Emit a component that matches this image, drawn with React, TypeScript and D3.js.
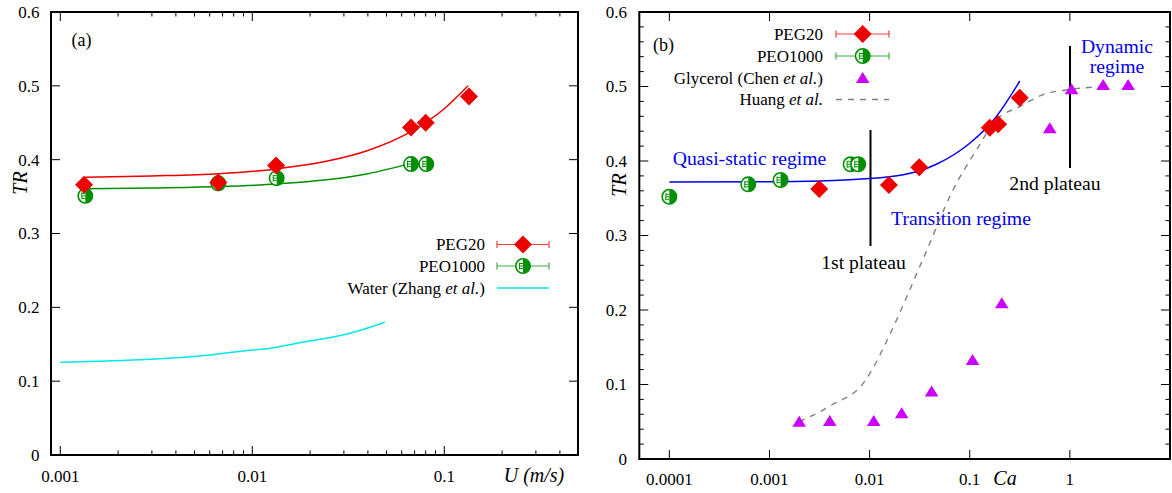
import React from "react";
import * as d3 from "d3";

// ---------- Panel (a) data ----------
const pegU = [0.00133, 0.00665, 0.0133, 0.0671, 0.08, 0.1345];
const pegTRa = [0.366, 0.369, 0.392, 0.4435, 0.45, 0.4855];
const peoU = [0.00135, 0.00665, 0.0134, 0.0671, 0.0806];
const peoTRa = [0.351, 0.368, 0.375, 0.394, 0.394];
const pegFitU = [0.00135, 0.003, 0.0067, 0.0133, 0.025, 0.04, 0.067, 0.1, 0.133];
const pegFitTR = [0.3763, 0.378, 0.381, 0.3875, 0.3985, 0.4125, 0.438, 0.469, 0.5];
const peoFitU = [0.00135, 0.003, 0.0067, 0.0133, 0.025, 0.04, 0.067];
const peoFitTR = [0.3605, 0.3615, 0.3635, 0.367, 0.373, 0.381, 0.395];
const waterU = [0.001, 0.0029, 0.0053, 0.01, 0.012, 0.0177, 0.0323, 0.049];
const waterTR = [0.1256, 0.1297, 0.134, 0.1423, 0.144, 0.152, 0.1648, 0.1798];
const xTicksA = [0.001, 0.01, 0.1];
const xTickLabelsA = ["0.001", "0.01", "0.1"];
const yTicks = [0, 0.1, 0.2, 0.3, 0.4, 0.5, 0.6];
const yTickLabels = ["0", "0.1", "0.2", "0.3", "0.4", "0.5", "0.6"];

// ---------- Panel (b) data ----------
const peoCa = [0.0001, 0.000614, 0.00129, 0.00646, 0.0077];
const peoTRb = [0.352, 0.3687, 0.3745, 0.3956, 0.3956];
const pegCa = [0.00314, 0.0156, 0.0313, 0.1585, 0.192, 0.316];
const pegTRb = [0.3624, 0.3678, 0.3915, 0.4447, 0.4492, 0.485];
const fitCa = [0.0001, 0.001, 0.01, 0.0217, 0.031, 0.047, 0.1, 0.184, 0.316];
const fitTR = [0.3718, 0.372, 0.3765, 0.3815, 0.3865, 0.396, 0.4238, 0.4595, 0.5074];
const huangCa = [0.00198, 0.004, 0.009, 0.0108, 0.0154, 0.0356, 0.068, 0.117, 0.183, 0.316, 0.54, 1, 2.2];
const huangTR = [0.05, 0.071, 0.105, 0.122, 0.163, 0.274, 0.361, 0.415, 0.455, 0.473, 0.489, 0.496, 0.5];
const glyCa = [0.00198, 0.004, 0.011, 0.0209, 0.0416, 0.1067, 0.209, 0.63, 1.04, 2.15, 3.82];
const glyTR = [0.05, 0.051, 0.051, 0.0613, 0.0904, 0.1329, 0.209, 0.4438, 0.4962, 0.502, 0.502];
const xTicksB = [0.0001, 0.001, 0.01, 0.1, 1, 10];
const xTickLabelsB = ["0.0001", "0.001", "0.01", "0.1", "1", ""];

const RED = "#ee0000";
const GREEN = "#008f00";
const BLUE = "#0000ee";
const MAG = "#cc00ff";
const CYAN = "#00e8e8";
const GREY = "#808080";
const FONT = "'Liberation Serif', 'Times New Roman', serif";
const FS = 17;
const FS_ANN = 19.7;
const FS_AX = 20;

const zip = (a: number[], b: number[]) => a.map((v, i) => [v, b[i]] as [number, number]);

function Diamond({ x, y, s = 9 }: { x: number; y: number; s?: number }) {
  return <path d={`M${x},${y - s}L${x + s},${y}L${x},${y + s}L${x - s},${y}Z`} fill={RED} />;
}

function HalfCircle({ x, y, r = 7.2 }: { x: number; y: number; r?: number }) {
  return (
    <g>
      <circle cx={x} cy={y} r={r} fill="white" stroke={GREEN} strokeWidth={1.6} />
      <path d={`M${x},${y - r}A${r},${r} 0 0 1 ${x},${y + r}Z`} fill={GREEN} />
      <line x1={x - 3.5} x2={x} y1={y} y2={y} stroke={GREEN} strokeWidth={1} />
      <line x1={x - 3.5} x2={x} y1={y - 2.5} y2={y - 2.5} stroke={GREEN} strokeWidth={1} />
      <line x1={x - 3.5} x2={x} y1={y + 2.5} y2={y + 2.5} stroke={GREEN} strokeWidth={1} />
      <line x1={x - 3.5} x2={x - 3.5} y1={y - 3.5} y2={y + 3.5} stroke={GREEN} strokeWidth={1} />
    </g>
  );
}

function Triangle({ x, y }: { x: number; y: number }) {
  const w = 6.8, h = 11;
  return <path d={`M${x},${y - h * 0.55}L${x + w},${y + h * 0.45}L${x - w},${y + h * 0.45}Z`} fill={MAG} />;
}

function ErrBar({ x1, x2, y, color }: { x1: number; x2: number; y: number; color: string }) {
  return (
    <g stroke={color} strokeWidth={1.2} opacity={0.75}>
      <line x1={x1} x2={x2} y1={y} y2={y} />
      <line x1={x1} x2={x1} y1={y - 3.5} y2={y + 3.5} />
      <line x1={x2} x2={x2} y1={y - 3.5} y2={y + 3.5} />
    </g>
  );
}

function minorLog(domain: [number, number]) {
  const out: number[] = [];
  for (let e = -6; e <= 2; e++) {
    for (let m = 2; m <= 9; m++) {
      const v = m * Math.pow(10, e);
      if (v > domain[0] && v < domain[1]) out.push(v);
    }
  }
  return out;
}

export default function App() {
  // Panel (a)
  const L = 51, R = 578, T = 12, B = 455;
  const xA = d3.scaleLog().domain([Math.pow(10, -3.0484), Math.pow(10, -0.3036)]).range([L, R]);
  const yA = d3.scaleLinear().domain([0, 0.6]).range([B, T]);
  const minorA = minorLog(xA.domain() as [number, number]);

  // Panel (b)
  const L2 = 639.3, R2 = 1170, T2 = 12, B2 = 459;
  const xB = d3.scaleLog().domain([Math.pow(10, -4.3), 10]).range([L2, R2]);
  const yB = d3.scaleLinear().domain([0, 0.6]).range([B2, T2]);
  const yMinorB = d3.range(0, 61, 2).filter((v) => v % 10 !== 0).map((v) => v / 100);

  const lineA = d3.line<[number, number]>().x((d) => xA(d[0])).y((d) => yA(d[1])).curve(d3.curveMonotoneX);
  const lineB = d3.line<[number, number]>().x((d) => xB(d[0])).y((d) => yB(d[1])).curve(d3.curveMonotoneX);

  return (
    <svg width={1172} height={493} style={{ position: "absolute", left: 0, top: 0, background: "white" }} fontFamily={FONT} fontSize={FS}>
      <rect width={1172} height={493} fill="white" />
      {/* ================= Panel (a) ================= */}
      <g>
        {xTicksA.map((t) => (
          <g key={"xa" + t} stroke="#000" strokeWidth={1}>
            <line x1={xA(t)} x2={xA(t)} y1={B} y2={B - 9} />
            <line x1={xA(t)} x2={xA(t)} y1={T} y2={T + 9} />
          </g>
        ))}
        {minorA.map((t) => (
          <g key={"xam" + t} stroke="#000" strokeWidth={1}>
            <line x1={xA(t)} x2={xA(t)} y1={B} y2={B - 4.5} />
            <line x1={xA(t)} x2={xA(t)} y1={T} y2={T + 4.5} />
          </g>
        ))}
        {yTicks.map((t) => (
          <g key={"ya" + t} stroke="#000" strokeWidth={1}>
            <line x1={L} x2={L + 9} y1={yA(t)} y2={yA(t)} />
            <line x1={R} x2={R - 9} y1={yA(t)} y2={yA(t)} />
          </g>
        ))}
        {xTicksA.map((t, i) => (
          <text key={"xla" + t} x={xA(t)} y={482} textAnchor="middle">{xTickLabelsA[i]}</text>
        ))}
        {yTicks.map((t, i) => (
          <text key={"yla" + t} x={39.5} y={yA(t)} dy="0.35em" textAnchor="end">{yTickLabels[i]}</text>
        ))}
        <text x={534} y={482} textAnchor="middle" fontStyle="italic" fontSize={FS_AX}>U (m/s)</text>
        <text transform={`translate(27,183) rotate(-90)`} textAnchor="middle" fontStyle="italic" fontSize={FS_AX}>TR</text>
        <text x={71.5} y={46} fontSize={18}>(a)</text>

        <path d={lineA(zip(waterU, waterTR)) || ""} fill="none" stroke={CYAN} strokeWidth={1.5} />
        <path d={lineA(zip(pegFitU, pegFitTR)) || ""} fill="none" stroke={RED} strokeWidth={1.5} />
        <path d={lineA(zip(peoFitU, peoFitTR)) || ""} fill="none" stroke={GREEN} strokeWidth={1.5} />

        {peoU.map((u, i) => (
          <HalfCircle key={"pa" + i} x={xA(u)} y={yA(peoTRa[i])} />
        ))}
        {pegU.map((u, i) => (
          <Diamond key={"da" + i} x={xA(u)} y={yA(pegTRa[i])} />
        ))}

        <text x={485} y={244.5} dy="0.35em" textAnchor="end">PEG20</text>
        <ErrBar x1={497} x2={549} y={244.5} color={RED} />
        <Diamond x={523} y={244.5} />
        <text x={485} y={266} dy="0.35em" textAnchor="end">PEO1000</text>
        <ErrBar x1={497} x2={549} y={266} color={GREEN} />
        <HalfCircle x={523} y={266} />
        <text x={485} y={288} dy="0.35em" textAnchor="end">
          Water (Zhang <tspan fontStyle="italic">et al.</tspan>)
        </text>
        <line x1={497} x2={549} y1={288} y2={288} stroke={CYAN} strokeWidth={1.5} />

        <rect x={L} y={T} width={R - L} height={B - T} fill="none" stroke="#000" strokeWidth={2} />
      </g>

      {/* ================= Panel (b) ================= */}
      <g>
        {xTicksB.map((t) => (
          <g key={"xb" + t} stroke="#000" strokeWidth={1}>
            <line x1={xB(t)} x2={xB(t)} y1={B2} y2={B2 - 9} />
            <line x1={xB(t)} x2={xB(t)} y1={T2} y2={T2 + 9} />
          </g>
        ))}
        {yTicks.map((t) => (
          <g key={"yb" + t} stroke="#000" strokeWidth={1}>
            <line x1={L2} x2={L2 + 9} y1={yB(t)} y2={yB(t)} />
            <line x1={R2} x2={R2 - 9} y1={yB(t)} y2={yB(t)} />
          </g>
        ))}
        {yMinorB.map((t) => (
          <g key={"ybm" + t} stroke="#000" strokeWidth={1}>
            <line x1={L2} x2={L2 + 4.5} y1={yB(t)} y2={yB(t)} />
            <line x1={R2} x2={R2 - 4.5} y1={yB(t)} y2={yB(t)} />
          </g>
        ))}
        {xTicksB.map((t, i) => (
          <text key={"xlb" + t} x={xB(t)} y={485} textAnchor="middle">{xTickLabelsB[i]}</text>
        ))}
        {yTicks.map((t, i) => (
          <text key={"ylb" + t} x={627} y={yB(t)} dy="0.35em" textAnchor="end">{yTickLabels[i]}</text>
        ))}
        <text x={1005} y={485} textAnchor="middle" fontStyle="italic" fontSize={FS_AX}>Ca</text>
        <text transform={`translate(625.5,185) rotate(-90)`} textAnchor="middle" fontStyle="italic" fontSize={FS_AX}>TR</text>
        <text x={653} y={51} fontSize={18}>(b)</text>

        <line x1={870.5} x2={870.5} y1={130} y2={246} stroke="#000" strokeWidth={2} />
        <line x1={1070} x2={1070} y1={46} y2={168} stroke="#000" strokeWidth={2} />
        <text x={863.5} y={262} dy="0.35em" textAnchor="middle" fontSize={FS_ANN}>1st plateau</text>
        <text x={1055} y={183.5} dy="0.35em" textAnchor="middle" fontSize={FS_ANN}>2nd plateau</text>
        <text x={749.5} y={158} dy="0.35em" textAnchor="middle" fill={BLUE} fontSize={FS_ANN}>Quasi-static regime</text>
        <text x={961} y={218.5} dy="0.35em" textAnchor="middle" fill={BLUE} fontSize={FS_ANN}>Transition regime</text>
        <text x={1117} y={46.5} dy="0.35em" textAnchor="middle" fill={BLUE} fontSize={FS_ANN}>Dynamic</text>
        <text x={1117} y={66.5} dy="0.35em" textAnchor="middle" fill={BLUE} fontSize={FS_ANN}>regime</text>

        <path d={lineB(zip(huangCa, huangTR)) || ""} fill="none" stroke={GREY} strokeWidth={1.4} strokeDasharray="6,6" />
        <path d={lineB(zip(fitCa, fitTR)) || ""} fill="none" stroke={BLUE} strokeWidth={1.5} />

        {peoCa.map((c, i) => (
          <HalfCircle key={"pb" + i} x={xB(c)} y={yB(peoTRb[i])} />
        ))}
        {pegCa.map((c, i) => (
          <Diamond key={"db" + i} x={xB(c)} y={yB(pegTRb[i])} />
        ))}
        {glyCa.map((c, i) => (
          <Triangle key={"gb" + i} x={xB(c)} y={yB(glyTR[i])} />
        ))}

        <text x={823} y={34} dy="0.35em" textAnchor="end">PEG20</text>
        <ErrBar x1={836} x2={889} y={34} color={RED} />
        <Diamond x={862.7} y={34} />
        <text x={823} y={56} dy="0.35em" textAnchor="end">PEO1000</text>
        <ErrBar x1={836} x2={889} y={56} color={GREEN} />
        <HalfCircle x={862.7} y={56} />
        <text x={823} y={78} dy="0.35em" textAnchor="end">
          Glycerol (Chen <tspan fontStyle="italic">et al.</tspan>)
        </text>
        <Triangle x={862.7} y={78} />
        <text x={823} y={99.5} dy="0.35em" textAnchor="end">
          Huang <tspan fontStyle="italic">et al.</tspan>
        </text>
        <line x1={836} x2={889} y1={99.5} y2={99.5} stroke={GREY} strokeWidth={1.4} strokeDasharray="6,6" />

        <rect x={L2} y={T2} width={R2 - L2} height={B2 - T2} fill="none" stroke="#000" strokeWidth={2} />
      </g>
    </svg>
  );
}
